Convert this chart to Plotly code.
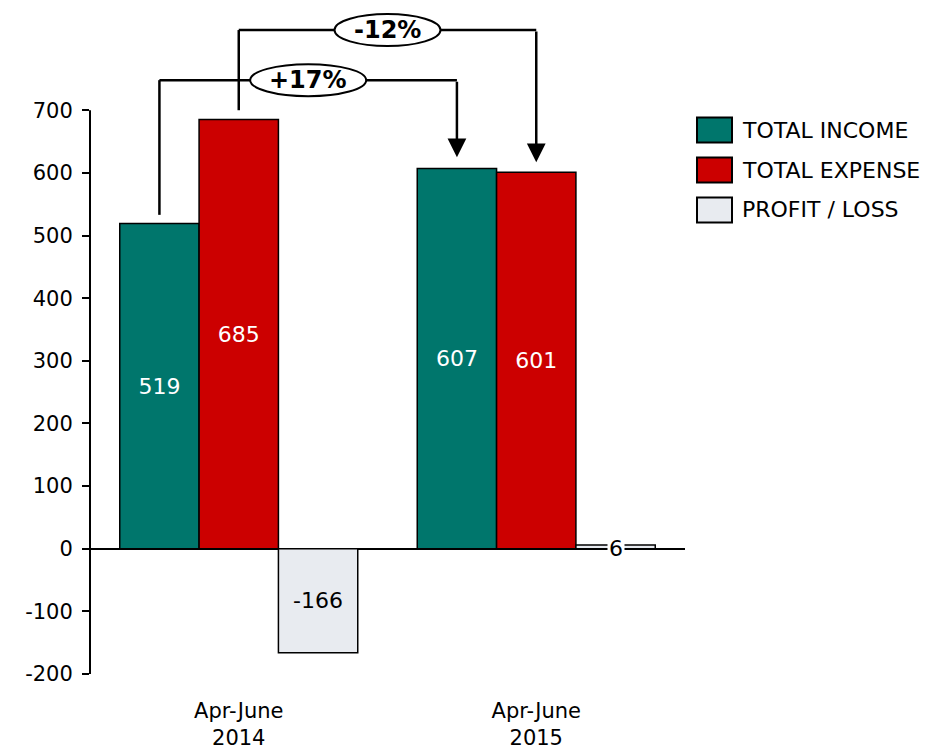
import plotly.graph_objects as go

categories = ["Apr-June<br>2014", "Apr-June<br>2015"]
series_names = ["TOTAL INCOME", "TOTAL EXPENSE", "PROFIT / LOSS"]
income = [519, 607]
expense = [685, 601]
profit = [-166, 6]
colors = ["#00766C", "#CC0000", "#E8EBF0"]
y_ticks = [-200, -100, 0, 100, 200, 300, 400, 500, 600, 700]

FONT = "DejaVu Sans"
OFF = 8  # default page body margin
W, H = 935 - OFF, 749 - OFF
ML, MR, MT, MB = 90 - OFF, 250, 10 - OFF, 75
PW, PH = W - ML - MR, H - MT - MB
BARGAP = 0.2
NB = 3
BW = (1 - BARGAP) / NB


def xpos(cat_idx, series_idx):
    return cat_idx + (series_idx - (NB - 1) / 2) * BW


def py_paper(py):
    # screen pixel y -> paper fraction
    return (OFF + H - MB - py) / PH


series_values = [income, expense, profit]
fig = go.Figure()
for i, (name, vals) in enumerate(zip(series_names, series_values)):
    if i < 2:
        text = [str(v) for v in vals]
        tcolor = "white"
    else:
        text = [str(v) if abs(v) > 50 else "" for v in vals]
        tcolor = "black"
    fig.add_trace(go.Bar(
        x=categories, y=vals, name=name,
        marker=dict(color=colors[i], line=dict(color="black", width=1.5)),
        text=text, textposition="inside", insidetextanchor="middle",
        textangle=0, textfont=dict(family=FONT, size=22, color=tcolor),
        showlegend=False, hoverinfo="x+y+name",
    ))

# small profit value label on the axis line
for ci, v in enumerate(profit):
    if abs(v) <= 50:
        fig.add_annotation(x=xpos(ci, 2), y=0, text=str(v), showarrow=False,
                           bgcolor="white", font=dict(family=FONT, size=22, color="black"),
                           xref="x", yref="y", borderpad=1)

shapes = []
# y axis line
shapes.append(dict(type="line", xref="paper", yref="y", x0=0, x1=0,
                   y0=y_ticks[0], y1=y_ticks[-1], line=dict(color="black", width=2)))

# change connectors
connectors = [
    (0, 748, 14, 18, 58),   # series index, connector level, start gap, end gap, half width
    (1, 828, 15, 16, 53),
]
for si, level, g0, g1, hw in connectors:
    vals = series_values[si]
    xs, xe = xpos(0, si), xpos(1, si)
    ys, ye = vals[0] + g0, vals[1] + g1
    pct = (vals[1] - vals[0]) / vals[0] * 100
    label = f"{pct:+.0f}%"
    shapes.append(dict(type="line", xref="x", yref="y", x0=xs, x1=xs, y0=ys, y1=level,
                       line=dict(color="black", width=2.5)))
    shapes.append(dict(type="line", xref="x", yref="y", x0=xs, x1=xe, y0=level, y1=level,
                       line=dict(color="black", width=2.5)))
    mid = (xs + xe) / 2
    shapes.append(dict(type="circle", xref="x", yref="y", xsizemode="pixel", ysizemode="pixel",
                       xanchor=mid, yanchor=level, x0=-hw, x1=hw, y0=-16, y1=16,
                       fillcolor="white", line=dict(color="black", width=2)))
    fig.add_annotation(x=mid, y=level, text=f"<b>{label}</b>", showarrow=False,
                       font=dict(family=FONT, size=24, color="black"), xref="x", yref="y")
    fig.add_annotation(x=xe, y=ye, ax=xe, ay=level, xref="x", yref="y",
                       axref="x", ayref="y", showarrow=True, arrowhead=2,
                       arrowsize=1.5, arrowwidth=2.5, arrowcolor="black", text="")

# custom legend
for i, name in enumerate(series_names):
    yc = py_paper(130 + 40 * i)
    shapes.append(dict(type="rect", xref="paper", yref="paper", xsizemode="pixel",
                       ysizemode="pixel", xanchor=1.0, yanchor=yc, x0=12, x1=47,
                       y0=-12.5, y1=12.5, fillcolor=colors[i],
                       line=dict(color="black", width=2)))
    fig.add_annotation(x=1.0, y=yc, xref="paper", yref="paper", xanchor="left",
                       yanchor="middle", xshift=55, text=name, showarrow=False,
                       font=dict(family=FONT, size=22, color="black"))

fig.update_layout(
    width=W, height=H, margin=dict(l=ML, r=MR, t=MT, b=MB, autoexpand=False),
    plot_bgcolor="white", paper_bgcolor="white",
    barmode="group", bargap=BARGAP, bargroupgap=0,
    font=dict(family=FONT, size=21, color="black"),
    shapes=shapes, showlegend=False,
    xaxis=dict(type="category", range=[-0.5, 1.5], showline=False, ticks="",
               showgrid=False, zeroline=False, tickfont=dict(family=FONT, size=21),
               ticklabelstandoff=22, automargin=False),
    yaxis=dict(range=[-200, 860], tickvals=y_ticks, ticktext=[str(v) for v in y_ticks],
               showline=False, showgrid=False, automargin=False,
               zeroline=True, zerolinecolor="black", zerolinewidth=1.5,
               ticks="outside", ticklen=7, tickwidth=2, tickcolor="black",
               ticklabelstandoff=5, tickfont=dict(family=FONT, size=21)),
)

fig.write_html("out.html")
